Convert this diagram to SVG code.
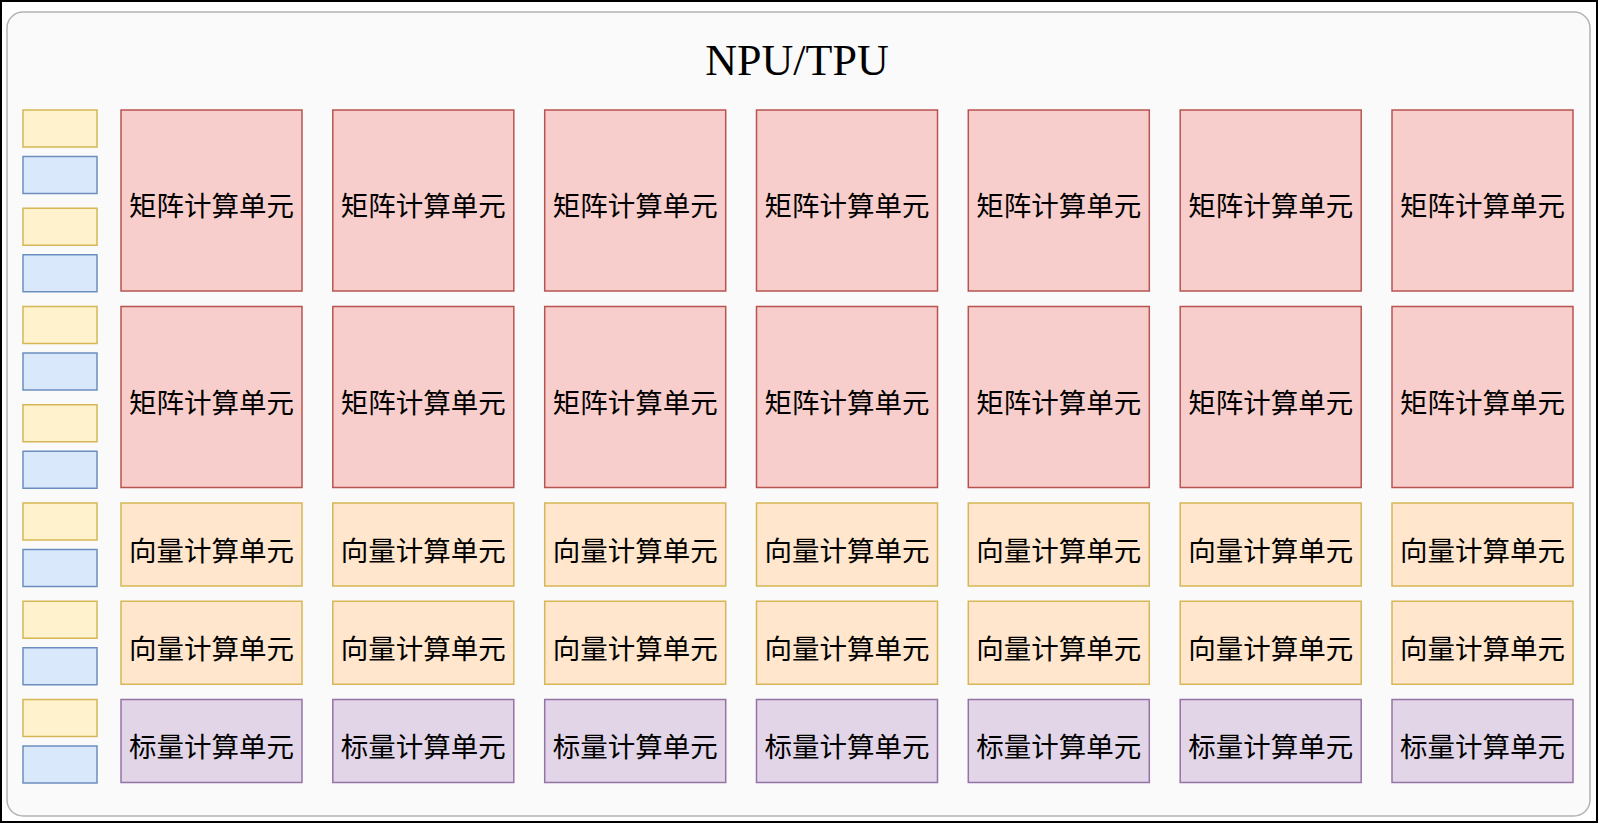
<svg xmlns="http://www.w3.org/2000/svg" width="1600" height="826" viewBox="0 0 1600 826">
<style>
.frame{fill:#ffffff;stroke:#000000;stroke-width:2}
.panel{fill:#fafafa;stroke:#b3b3b3;stroke-width:1.5}
.mat{fill:#f8cecc;stroke:#b85450;stroke-width:1.5}
.vec{fill:#ffe6cc;stroke:#d6b656;stroke-width:1.5}
.sca{fill:#e1d5e7;stroke:#9673a6;stroke-width:1.5}
.y{fill:#fff2cc;stroke:#d6b656;stroke-width:1.5}
.b{fill:#dae8fc;stroke:#6c8ebf;stroke-width:1.5}
.t{font-family:"Noto Sans CJK SC","Noto Sans CJK JP",sans-serif;font-size:27.5px;fill:#000;text-anchor:middle;dominant-baseline:central}
.title{font-family:"Liberation Serif","Times New Roman",serif;font-size:44px;fill:#000;text-anchor:middle}
</style>
<rect class="frame" x="1" y="1" width="1596" height="821"/>
<g id="panel">
<rect class="panel" x="7" y="12" width="1583" height="804" rx="16" ry="16"/>
<text class="title" x="797" y="75">NPU/TPU</text>
</g>
<g id="buffers">
<rect class="y" x="23" y="110" width="74" height="37"/><rect class="b" x="23" y="156.5" width="74" height="37"/>
<rect class="y" x="23" y="208.25" width="74" height="37"/><rect class="b" x="23" y="254.75" width="74" height="37"/>
<rect class="y" x="23" y="306.5" width="74" height="37"/><rect class="b" x="23" y="353" width="74" height="37"/>
<rect class="y" x="23" y="404.75" width="74" height="37"/><rect class="b" x="23" y="451.25" width="74" height="37"/>
<rect class="y" x="23" y="503" width="74" height="37"/><rect class="b" x="23" y="549.5" width="74" height="37"/>
<rect class="y" x="23" y="601.25" width="74" height="37"/><rect class="b" x="23" y="647.75" width="74" height="37"/>
<rect class="y" x="23" y="699.5" width="74" height="37"/><rect class="b" x="23" y="746" width="74" height="37"/>
</g>
<g id="col0" transform="translate(121,0)">
<g id="m0a"><rect class="mat" x="0" y="110" width="181" height="181"/><text class="t" x="90.5" y="204">矩阵计算单元</text></g>
<g id="m0b"><rect class="mat" x="0" y="306.5" width="181" height="181"/><text class="t" x="90.5" y="400.5">矩阵计算单元</text></g>
<g id="v0a"><rect class="vec" x="0" y="503" width="181" height="83"/><text class="t" x="90.5" y="548.5">向量计算单元</text></g>
<g id="v0b"><rect class="vec" x="0" y="601.25" width="181" height="83"/><text class="t" x="90.5" y="646.75">向量计算单元</text></g>
<g id="s0"><rect class="sca" x="0" y="699.5" width="181" height="83"/><text class="t" x="90.5" y="745">标量计算单元</text></g>
</g>
<g id="col1" transform="translate(332.8,0)">
<g id="m1a"><rect class="mat" x="0" y="110" width="181" height="181"/><text class="t" x="90.5" y="204">矩阵计算单元</text></g>
<g id="m1b"><rect class="mat" x="0" y="306.5" width="181" height="181"/><text class="t" x="90.5" y="400.5">矩阵计算单元</text></g>
<g id="v1a"><rect class="vec" x="0" y="503" width="181" height="83"/><text class="t" x="90.5" y="548.5">向量计算单元</text></g>
<g id="v1b"><rect class="vec" x="0" y="601.25" width="181" height="83"/><text class="t" x="90.5" y="646.75">向量计算单元</text></g>
<g id="s1"><rect class="sca" x="0" y="699.5" width="181" height="83"/><text class="t" x="90.5" y="745">标量计算单元</text></g>
</g>
<g id="col2" transform="translate(544.7,0)">
<g id="m2a"><rect class="mat" x="0" y="110" width="181" height="181"/><text class="t" x="90.5" y="204">矩阵计算单元</text></g>
<g id="m2b"><rect class="mat" x="0" y="306.5" width="181" height="181"/><text class="t" x="90.5" y="400.5">矩阵计算单元</text></g>
<g id="v2a"><rect class="vec" x="0" y="503" width="181" height="83"/><text class="t" x="90.5" y="548.5">向量计算单元</text></g>
<g id="v2b"><rect class="vec" x="0" y="601.25" width="181" height="83"/><text class="t" x="90.5" y="646.75">向量计算单元</text></g>
<g id="s2"><rect class="sca" x="0" y="699.5" width="181" height="83"/><text class="t" x="90.5" y="745">标量计算单元</text></g>
</g>
<g id="col3" transform="translate(756.5,0)">
<g id="m3a"><rect class="mat" x="0" y="110" width="181" height="181"/><text class="t" x="90.5" y="204">矩阵计算单元</text></g>
<g id="m3b"><rect class="mat" x="0" y="306.5" width="181" height="181"/><text class="t" x="90.5" y="400.5">矩阵计算单元</text></g>
<g id="v3a"><rect class="vec" x="0" y="503" width="181" height="83"/><text class="t" x="90.5" y="548.5">向量计算单元</text></g>
<g id="v3b"><rect class="vec" x="0" y="601.25" width="181" height="83"/><text class="t" x="90.5" y="646.75">向量计算单元</text></g>
<g id="s3"><rect class="sca" x="0" y="699.5" width="181" height="83"/><text class="t" x="90.5" y="745">标量计算单元</text></g>
</g>
<g id="col4" transform="translate(968.3,0)">
<g id="m4a"><rect class="mat" x="0" y="110" width="181" height="181"/><text class="t" x="90.5" y="204">矩阵计算单元</text></g>
<g id="m4b"><rect class="mat" x="0" y="306.5" width="181" height="181"/><text class="t" x="90.5" y="400.5">矩阵计算单元</text></g>
<g id="v4a"><rect class="vec" x="0" y="503" width="181" height="83"/><text class="t" x="90.5" y="548.5">向量计算单元</text></g>
<g id="v4b"><rect class="vec" x="0" y="601.25" width="181" height="83"/><text class="t" x="90.5" y="646.75">向量计算单元</text></g>
<g id="s4"><rect class="sca" x="0" y="699.5" width="181" height="83"/><text class="t" x="90.5" y="745">标量计算单元</text></g>
</g>
<g id="col5" transform="translate(1180.2,0)">
<g id="m5a"><rect class="mat" x="0" y="110" width="181" height="181"/><text class="t" x="90.5" y="204">矩阵计算单元</text></g>
<g id="m5b"><rect class="mat" x="0" y="306.5" width="181" height="181"/><text class="t" x="90.5" y="400.5">矩阵计算单元</text></g>
<g id="v5a"><rect class="vec" x="0" y="503" width="181" height="83"/><text class="t" x="90.5" y="548.5">向量计算单元</text></g>
<g id="v5b"><rect class="vec" x="0" y="601.25" width="181" height="83"/><text class="t" x="90.5" y="646.75">向量计算单元</text></g>
<g id="s5"><rect class="sca" x="0" y="699.5" width="181" height="83"/><text class="t" x="90.5" y="745">标量计算单元</text></g>
</g>
<g id="col6" transform="translate(1392,0)">
<g id="m6a"><rect class="mat" x="0" y="110" width="181" height="181"/><text class="t" x="90.5" y="204">矩阵计算单元</text></g>
<g id="m6b"><rect class="mat" x="0" y="306.5" width="181" height="181"/><text class="t" x="90.5" y="400.5">矩阵计算单元</text></g>
<g id="v6a"><rect class="vec" x="0" y="503" width="181" height="83"/><text class="t" x="90.5" y="548.5">向量计算单元</text></g>
<g id="v6b"><rect class="vec" x="0" y="601.25" width="181" height="83"/><text class="t" x="90.5" y="646.75">向量计算单元</text></g>
<g id="s6"><rect class="sca" x="0" y="699.5" width="181" height="83"/><text class="t" x="90.5" y="745">标量计算单元</text></g>
</g>
<g id="connectors"/>
</svg>
